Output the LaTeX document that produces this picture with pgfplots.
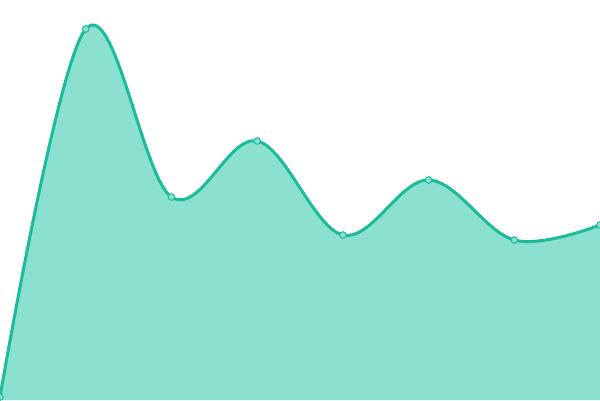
\documentclass[border=0pt]{standalone}
\usepackage{pgfplots}
\pgfplotsset{compat=1.18}
\definecolor{teal1}{HTML}{1ABC9C}
\definecolor{tealfill}{HTML}{8BE0CF}
\begin{document}
\begin{tikzpicture}
\begin{axis}[width=600pt, height=400pt, scale only axis,
    axis lines=none, xmin=0, xmax=7, ymin=0, ymax=400,
    clip=true]
\addplot[draw=none, fill=tealfill, smooth, tension=0.6] coordinates {
(0,3) (1,371) (2,203) (3,259) (4,165) (5,220) (6,160) (7,175)
} \closedcycle;
\addplot[teal1, line width=3pt, smooth, tension=0.6, mark=*,
    mark size=3.3pt, mark options={fill=tealfill, draw=teal1, line width=1pt}] coordinates {
(0,3) (1,371) (2,203) (3,259) (4,165) (5,220) (6,160) (7,175)
};
\end{axis}
\pgfresetboundingbox
\path (current axis.south west) rectangle (current axis.north east);
\end{tikzpicture}
\end{document}
